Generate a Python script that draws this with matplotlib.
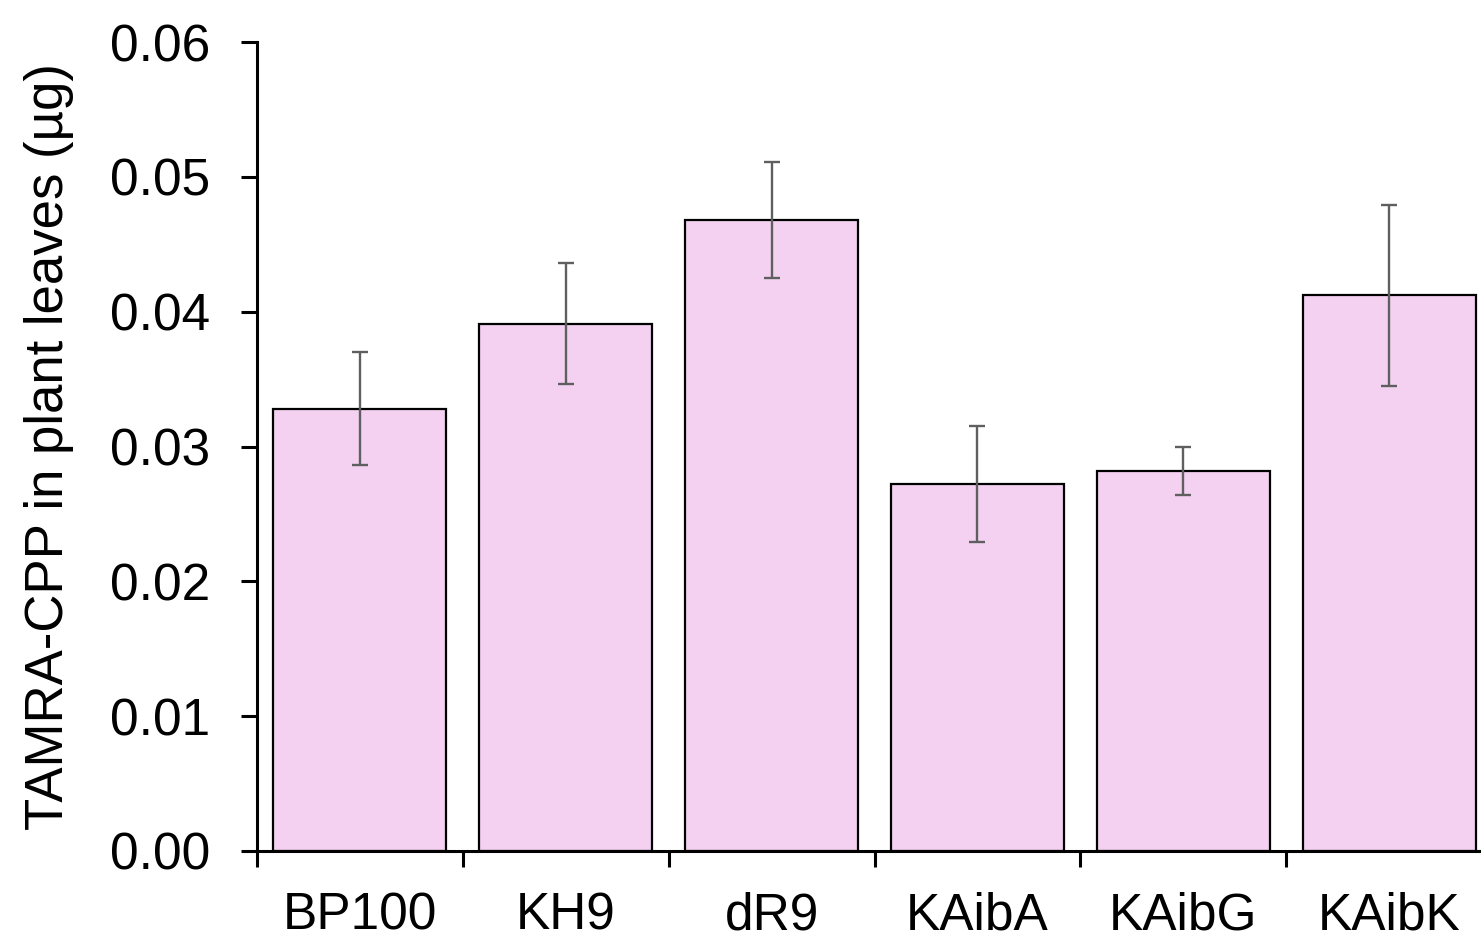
import matplotlib
matplotlib.use("Agg")
import matplotlib.pyplot as plt
import numpy as np

# values
peptides = ["BP100", "KH9", "dR9", "KAibA", "KAibG", "KAibK"]
amount = [0.0328, 0.0391, 0.0468, 0.0272, 0.0282, 0.0412]
amount_err = [0.0042, 0.0045, 0.0043, 0.0043, 0.0018, 0.0067]

plt.rcParams["font.family"] = ["Liberation Sans", "DejaVu Sans"]

fig = plt.figure(figsize=(14.81, 9.41), dpi=100)
ax = fig.add_axes([257 / 1481, 1 - 851 / 941, (1492 - 257) / 1481, (851 - 42) / 941])

x = np.arange(len(peptides))
ax.bar(x, amount, width=0.84, color="#F4D1F1", edgecolor="black", linewidth=1.6)
ax.errorbar(x, amount, yerr=amount_err, fmt="none", ecolor="#5f5f5f",
            elinewidth=1.7, capsize=6, capthick=1.7)

ax.set_xlim(-0.5, len(peptides) - 0.5)
ax.set_ylim(0, 0.06)
ax.set_yticks(np.arange(0, 0.061, 0.01))
ax.set_yticklabels(["%.2f" % v for v in np.arange(0, 0.061, 0.01)])

# labels sit between boundary ticks
ax.set_xticks(x)
ax.set_xticklabels(peptides)
ax.set_xticks(np.arange(-0.5, len(peptides), 1.0), minor=True)
ax.tick_params(axis="x", which="major", length=0, pad=29, labelsize=37)
ax.tick_params(axis="x", which="minor", length=11.5, width=2.2, direction="out")
ax.tick_params(axis="y", length=11.5, width=2.2, direction="out", pad=22, labelsize=37)

for side in ["top", "right"]:
    ax.spines[side].set_visible(False)
for side in ["left", "bottom"]:
    ax.spines[side].set_linewidth(2.2)

ax.set_ylabel("TAMRA-CPP in plant leaves (µg)", fontsize=38, labelpad=26)

fig.savefig("out.png", dpi=100)
